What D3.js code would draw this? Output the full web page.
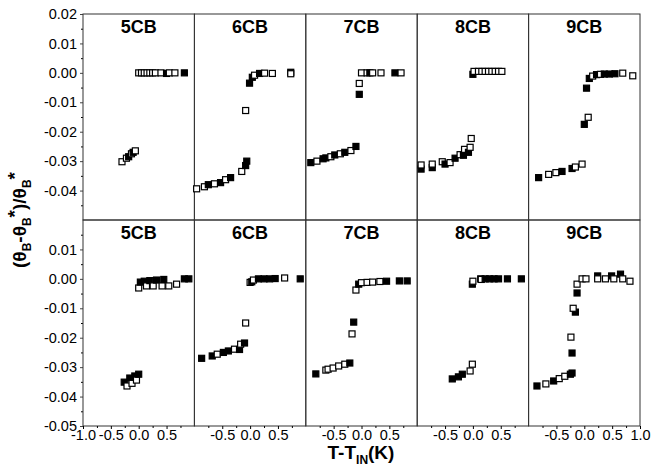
<!DOCTYPE html>
<meta charset="utf-8">
<style>
body { margin: 0; background: #fff; }
svg, svg text { font-family: 'Liberation Sans', Arial, sans-serif; }
.ptitle { font-size: 18px; font-weight: bold; }
.atitle { font-size: 19px; font-weight: bold; }
</style>
<body>
<div id="chart"></div>
<script src="https://cdn.jsdelivr.net/npm/d3@7"></script>
<script>
// each point: [T-T_IN, value, filled(1) / open(0)]
var names = ['5CB', '6CB', '7CB', '8CB', '9CB'];

var top5 = [[-0.30,-0.0302,0],[-0.22,-0.0290,0],[-0.18,-0.0285,1],[-0.13,-0.0275,0],[-0.10,-0.0270,1],[-0.06,-0.0265,0],
  [0.0,0,0],[0.05,0,0],[0.10,0,0],[0.15,0,0],[0.20,0,0],[0.25,0,0],[0.30,0,0],[0.40,0,0],[0.50,-0.0002,1],[0.55,0,0],[0.65,0,0],[0.82,0,1]];
var top6 = [[-0.96,-0.0394,0],[-0.82,-0.0387,0],[-0.75,-0.0380,1],[-0.64,-0.0377,0],[-0.53,-0.0373,1],[-0.44,-0.0363,0],[-0.35,-0.0356,1],
  [-0.15,-0.0335,0],[-0.08,-0.0315,1],[-0.06,-0.0300,1],[-0.08,-0.0128,0],[-0.01,-0.0035,1],[0.04,-0.0015,1],[0.08,-0.0008,0],[0.17,-0.0002,1],
  [0.26,-0.0001,0],[0.40,-0.0002,0],[0.73,0.0002,1],[0.73,-0.0003,0]];
var top7 = [[-0.91,-0.0305,1],[-0.80,-0.0300,0],[-0.69,-0.0292,1],[-0.64,-0.0289,1],[-0.55,-0.0285,0],[-0.48,-0.0279,1],[-0.38,-0.0275,0],
  [-0.30,-0.0270,1],[-0.19,-0.0264,0],[-0.10,-0.0250,1],[-0.04,-0.0073,1],[-0.04,-0.0036,0],[0.0,0,0],[0.10,0,0],[0.15,0,1],[0.20,0,0],
  [0.35,0,0],[0.60,0,1],[0.71,0,0]];
var top8 = [[-0.93,-0.0327,1],[-0.93,-0.0313,0],[-0.73,-0.0322,1],[-0.73,-0.0310,0],[-0.55,-0.0302,0],[-0.50,-0.0310,1],[-0.41,-0.0305,0],
  [-0.32,-0.0290,1],[-0.23,-0.0278,0],[-0.17,-0.0280,1],[-0.15,-0.0260,0],[-0.08,-0.0270,1],[-0.05,-0.0253,0],[-0.03,-0.0223,0],
  [0.0,-0.0005,1],[0.02,0.0005,0],[0.10,0.0005,0],[0.16,0.0005,0],[0.22,0.0005,0],[0.28,0.0005,0],[0.34,0.0005,0],[0.40,0.0005,0],[0.46,0.0005,0],[0.52,0.0005,0]];
var top9 = [[-0.82,-0.0356,1],[-0.64,-0.0345,0],[-0.51,-0.0339,0],[-0.40,-0.0335,1],[-0.22,-0.0325,1],[-0.16,-0.0320,0],[-0.04,-0.0310,0],
  [0.0,-0.0175,1],[0.07,-0.0151,0],[0.04,-0.0052,1],[0.09,-0.0019,1],[0.15,-0.0011,0],[0.22,-0.0006,1],[0.29,-0.0005,0],[0.36,-0.0004,1],
  [0.45,-0.0004,1],[0.55,-0.0003,1],[0.69,-0.0001,0],[0.87,-0.0010,0]];

var bot5 = [[-0.26,-0.0351,1],[-0.21,-0.0364,0],[-0.16,-0.0337,1],[-0.12,-0.0355,0],[-0.07,-0.0330,1],[-0.04,-0.0344,0],[0.0,-0.0324,1],
  [0.0,-0.0031,0],[0.03,-0.0011,1],[0.10,-0.0008,1],[0.14,-0.0024,0],[0.20,-0.0006,1],[0.26,-0.0024,0],[0.32,-0.0004,1],[0.42,-0.0024,0],
  [0.45,-0.0002,1],[0.54,-0.0024,0],[0.68,-0.0018,0],[0.82,0.0,1],[0.90,0.0,1]];
var bot6 = [[-0.87,-0.0270,1],[-0.68,-0.0262,1],[-0.59,-0.0256,0],[-0.48,-0.0250,1],[-0.39,-0.0245,1],[-0.28,-0.0239,0],[-0.19,-0.0240,1],
  [-0.17,-0.0222,0],[-0.10,-0.0218,1],[-0.08,-0.0150,0],[0.0,-0.0012,0],[0.03,-0.0010,1],[0.06,-0.0004,0],[0.15,0.0,1],[0.25,0.0,1],
  [0.35,0.0,1],[0.45,0.0001,1],[0.62,0.0003,0],[0.90,0.0,1]];
var bot7 = [[-0.82,-0.0323,1],[-0.64,-0.0310,0],[-0.60,-0.0307,0],[-0.51,-0.0303,0],[-0.41,-0.0296,0],[-0.30,-0.0290,0],[-0.21,-0.0286,1],
  [-0.17,-0.0187,0],[-0.14,-0.0147,1],[-0.10,-0.0038,0],[-0.05,-0.0018,1],[0.0,-0.0013,0],[0.10,-0.0012,0],[0.20,-0.0011,0],[0.33,-0.0009,0],
  [0.45,-0.0008,1],[0.68,-0.0007,1],[0.82,-0.0007,1]];
var bot8 = [[-0.37,-0.0340,1],[-0.26,-0.0333,1],[-0.19,-0.0324,1],[-0.05,-0.0313,0],[-0.01,-0.0290,0],[-0.01,-0.0018,1],[0.0,-0.0008,0],
  [0.14,0.0,1],[0.15,-0.0002,0],[0.22,0.0,1],[0.30,0.0,1],[0.38,0.0,1],[0.46,0.0,1],[0.62,0.0,1],[0.87,0.0,1]];
var bot9 = [[-0.85,-0.0364,1],[-0.69,-0.0357,0],[-0.55,-0.0347,1],[-0.45,-0.0339,0],[-0.35,-0.0331,0],[-0.25,-0.0324,1],[-0.22,-0.0320,1],
  [-0.22,-0.0252,1],[-0.24,-0.0198,0],[-0.16,-0.0113,1],[-0.20,-0.0100,0],[-0.13,-0.0048,1],[-0.13,-0.0018,0],[-0.04,0.0,0],[0.03,0.0,0],
  [0.24,0.0010,1],[0.24,0.0,0],[0.38,0.0,0],[0.49,0.0010,1],[0.53,0.0,0],[0.65,0.0016,1],[0.69,0.0,0],[0.82,-0.0008,0]];

var rows = [[top5, top6, top7, top8, top9], [bot5, bot6, bot7, bot8, bot9]];
var yTicks = [[0.02, 0.01, 0.00, -0.01, -0.02, -0.03, -0.04], [0.01, 0.00, -0.01, -0.02, -0.03, -0.04, -0.05]];
var xTicks = [[-1.0, -0.5, 0.0, 0.5], [-0.5, 0.0, 0.5], [-0.5, 0.0, 0.5], [-0.5, 0.0, 0.5], [-0.5, 0.0, 0.5, 1.0]];

var W = 651, H = 468;
var plotL = 83, plotR = 640, plotT = 14, rowH = 206;
var pw = (plotR - plotL) / 5;
var ms = 6;

var svg = d3.select('#chart').append('svg')
  .attr('width', W).attr('height', H);

for (var r = 0; r < 2; r++) {
  var y0 = plotT + r * rowH;
  var y = d3.scaleLinear().domain([-0.05, 0.02]).range([y0 + rowH, y0]);

  // left axis
  var yAxis = d3.axisLeft(y).tickValues(yTicks[r]).tickSize(3).tickPadding(3)
    .tickFormat(d3.format('.2f'));
  var ya = svg.append('g').attr('transform', 'translate(' + plotL + ',0)').call(yAxis);
  ya.select('.domain').remove();
  ya.selectAll('.tick line').attr('stroke', '#444');
  svg.append('g').attr('transform', 'translate(' + plotL + ',0)')
    .call(d3.axisLeft(y).tickValues(d3.range(-0.045, 0.02, 0.01)).tickSize(2).tickFormat(''))
    .select('.domain').remove();

  for (var p = 0; p < 5; p++) {
    var x0 = plotL + p * pw;
    var x = d3.scaleLinear().domain([-1, 1]).range([x0, x0 + pw]);
    var g = svg.append('g');

    g.append('rect')
      .attr('x', x0).attr('y', y0).attr('width', pw).attr('height', rowH)
      .attr('fill', 'none').attr('stroke', '#333').attr('stroke-width', 1);

    g.append('text').attr('class', 'ptitle')
      .attr('x', x0 + pw / 2).attr('y', y0 + 19)
      .attr('text-anchor', 'middle').text(names[p]);

    if (r === 1) {
      var xa = svg.append('g').attr('transform', 'translate(0,' + (y0 + rowH) + ')')
        .call(d3.axisBottom(x).tickValues(xTicks[p]).tickSize(3).tickPadding(1)
          .tickFormat(d3.format('.1f')));
      xa.select('.domain').remove();
      svg.append('g').attr('transform', 'translate(0,' + (y0 + rowH) + ')')
        .call(d3.axisBottom(x).tickValues([-0.75, -0.25, 0.25, 0.75]).tickSize(2).tickFormat(''))
        .select('.domain').remove();
    }

    g.selectAll('rect.pt').data(rows[r][p]).enter().append('rect')
      .attr('class', 'pt')
      .attr('x', function(d) { return x(d[0]) - ms / 2; })
      .attr('y', function(d) { return y(d[1]) - ms / 2; })
      .attr('width', ms).attr('height', ms)
      .attr('fill', function(d) { return d[2] ? '#000' : '#fff'; })
      .attr('stroke', '#000').attr('stroke-width', 1.2);
  }
}

// plain hyphen minus like the original, and a bigger label font
svg.selectAll('.tick text')
  .style('font-size', '14.5px')
  .style('font-family', "'Liberation Sans', Arial, sans-serif")
  .text(function() { return this.textContent.replace('−', '-'); });

// axis titles
var yt = svg.append('text').attr('class', 'atitle')
  .attr('transform', 'translate(26,' + (plotT + rowH) + ') rotate(-90)')
  .attr('text-anchor', 'middle');
yt.append('tspan').text('(θ');
yt.append('tspan').attr('font-size', 12).attr('dy', 5).text('B');
yt.append('tspan').attr('dy', -5).text('-θ');
yt.append('tspan').attr('font-size', 12).attr('dy', 5).text('B');
yt.append('tspan').attr('dy', -10).text('*');
yt.append('tspan').attr('dy', 5).text(')/θ');
yt.append('tspan').attr('font-size', 12).attr('dy', 5).text('B');
yt.append('tspan').attr('dy', -10).text('*');

var xt = svg.append('text').attr('class', 'atitle')
  .attr('x', 361).attr('y', 459).attr('text-anchor', 'middle');
xt.append('tspan').text('T-T');
xt.append('tspan').attr('font-size', 12).attr('dy', 5).text('IN');
xt.append('tspan').attr('dy', -5).text('(K)');
</script>
</body>
